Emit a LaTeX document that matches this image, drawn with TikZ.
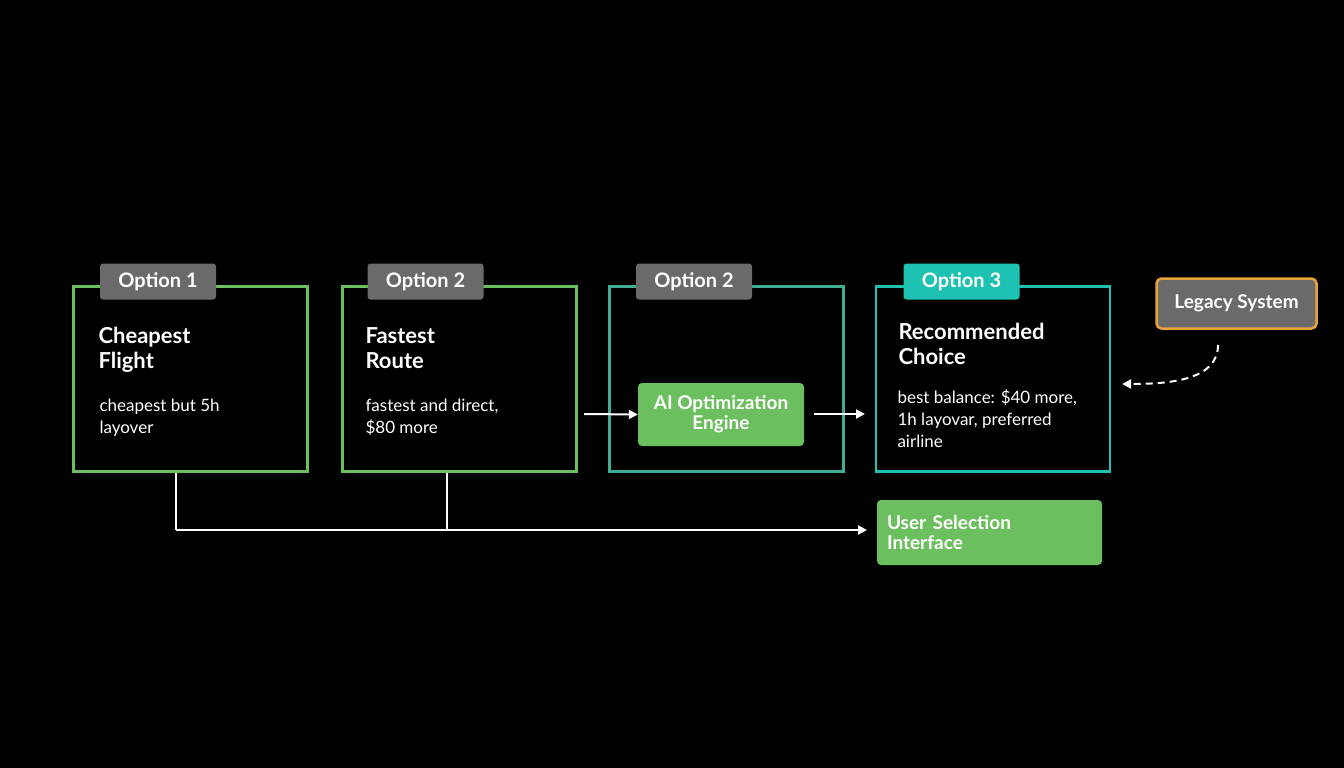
\documentclass[tikz,border=0pt]{standalone}
\usepackage{fontspec}
\setmainfont{Lato}
\usetikzlibrary{arrows.meta}
\definecolor{grn}{HTML}{6CBF5E}
\definecolor{tl}{HTML}{1EC2B2}
\definecolor{mid}{HTML}{3FAE94}
\definecolor{gry}{HTML}{6A6A6A}
\definecolor{org}{HTML}{E8A33C}
\begin{document}
\begin{tikzpicture}[x=1pt,y=-1pt,
 box/.style={draw,line width=2.5pt,minimum width=234pt,minimum height=185pt},
 tab/.style={fill=#1,rounded corners=3pt,minimum width=116pt,minimum height=36pt,text=white,font=\bfseries\fontsize{20}{22}\selectfont},
 ttl/.style={anchor=north west,align=left,text=white,font=\bfseries\fontsize{22}{25}\selectfont},
 body/.style={anchor=north west,align=left,text=white,font=\fontsize{17}{22}\selectfont},
 gbox/.style={fill=grn,rounded corners=4pt,text=white,font=\bfseries\fontsize{19}{23}\selectfont},
 arr/.style={draw=white,line width=2pt,-{Triangle[length=9pt,width=9pt]}}]
\fill (0,0) rectangle (1344,768);
\node[box,draw=grn] (b1) at (190.5,379) {};
\node[box,draw=grn] (b2) at (459.5,379) {};
\node[box,draw=mid] (b3) at (726.5,379) {};
\node[box,draw=tl] (b4) at (993,379) {};
\node[tab=gry] (t1) at (158,281.5) {Option 1};
\node[tab=gry] (t2) at (425.5,281.5) {Option 2};
\node[tab=gry] (t3) at (694,281.5) {Option 2};
\node[tab=tl] (t4) at (961.5,281.5) {Option 3};
\node[ttl] (h1) at (95,324) {Cheapest\\Flight};
\node[ttl] (h2) at (362,324) {Fastest\\Route};
\node[ttl] (h4) at (895,320) {Recommended\\Choice};
\node[body] (d1) at (96,395) {cheapest but 5h\\layover};
\node[body] (d2) at (362,395) {fastest and direct,\\\$80 more};
\node[body] (d4) at (894,386) {best balance: \$40 more,\\1h layovar, preferred\\airline};
\node[gbox,minimum width=166pt,minimum height=63pt,align=center] (ai) at (721,414.5) {AI Optimization\\[-3pt]Engine};
\node[gbox,minimum width=225pt,minimum height=65pt,align=left,text width=205pt] (us) at (989.5,532.5) {User Selection\\[-3pt]Interface};
\node[fill=gry,draw=org,line width=2.5pt,rounded corners=5pt,minimum width=160pt,minimum height=50pt,text=white,font=\bfseries\fontsize{19}{22}\selectfont] (lg) at (1236.5,303.5) {Legacy System};
\coordinate (a1) at (584,414);
\draw[arr] (a1) -- (ai.west);
\coordinate (a2) at (814,414);
\coordinate (a3) at (865,414);
\draw[arr] (a2) -- (a3);
\coordinate (l1) at (1218,345);
\coordinate (l2) at (1122,384);
\draw[white,line width=2pt,dash pattern=on 7pt off 5pt,-{Triangle[length=9pt,width=9pt]}] (l1) .. controls (1218,380) and (1170,384) .. (l2);
\coordinate (j1) at (176,530);
\coordinate (j2) at (447,530);
\coordinate (e) at (867,530);
\draw[white,line width=2pt] (j1 |- b1.south) -- (j1);
\draw[white,line width=2pt] (j2 |- b2.south) -- (j2);
\draw[arr] (j1) -- (e);
\end{tikzpicture}
\end{document}
